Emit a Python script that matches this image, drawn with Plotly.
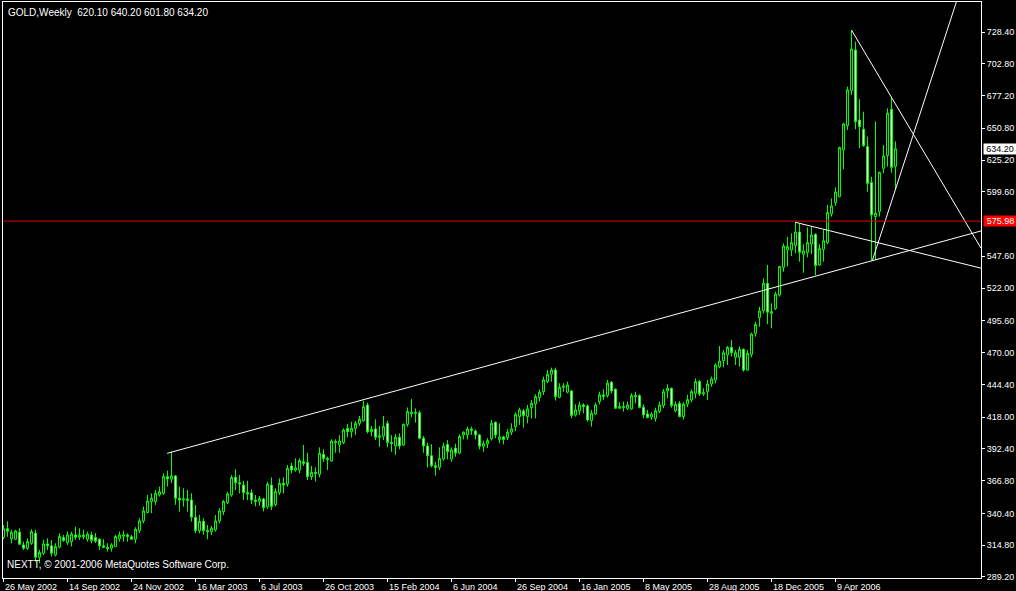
import plotly.graph_objects as go

# ---- data (weekly GOLD bars) ----
opens = [321.0, 328.0, 319.8, 319.5, 325.2, 315.0, 312.3, 316.3, 324.4, 305.0,
         308.2, 315.8, 314.2, 306.9, 313.1, 320.9, 316.8, 317.6, 323.0, 321.2,
         322.8, 319.5, 323.0, 321.0, 319.5, 314.2, 313.0, 312.3, 313.6, 319.8,
         322.0, 323.0, 321.5, 319.5, 326.5, 334.3, 341.0, 349.9, 349.9, 355.3,
         356.6, 370.0, 367.9, 370.6, 352.6, 351.2, 352.0, 351.2, 337.3, 326.5,
         333.8, 326.5, 325.7, 327.1, 334.3, 341.8, 349.1, 355.2, 369.4, 365.1,
         363.2, 357.1, 357.0, 351.1, 350.0, 352.0, 346.0, 363.2, 347.5, 357.1,
         364.6, 364.0, 378.6, 375.3, 375.3, 382.0, 381.5, 370.0, 373.4, 371.8,
         388.0, 384.7, 382.6, 398.2, 395.5, 397.4, 408.9, 406.2, 408.9, 412.9,
         415.1, 427.7, 406.2, 408.4, 401.7, 402.7, 412.9, 397.6, 394.7, 401.7,
         395.5, 412.1, 421.8, 421.0, 421.5, 400.9, 394.7, 386.9, 378.8, 377.5,
         384.2, 396.0, 384.2, 393.0, 389.0, 403.6, 403.6, 408.4, 406.8, 403.6,
         394.5, 396.5, 400.5, 413.8, 400.0, 402.0, 401.5, 405.8, 410.3, 418.4,
         423.0, 418.4, 425.6, 428.6, 433.7, 438.5, 446.6, 452.5, 456.0, 434.0,
         442.0, 438.0, 439.1, 419.7, 423.0, 427.8, 427.0, 415.2, 420.5, 430.5,
         435.9, 435.3, 446.1, 440.4, 425.1, 426.5, 425.1, 424.6, 435.3, 435.3,
         425.9, 420.5, 418.1, 417.0, 422.4, 427.3, 439.1, 441.2, 423.0, 429.1,
         418.4, 428.5, 431.8, 437.2, 446.6, 436.6, 438.5, 444.7, 447.9, 458.6,
         463.5, 468.1, 474.2, 466.2, 466.2, 472.6, 455.9, 468.6, 485.5, 498.2,
         503.8, 525.8, 501.6, 505.4, 516.4, 538.7, 552.7, 552.7, 556.2, 567.2,
         549.2, 550.8, 557.5, 565.3, 540.6, 553.2, 558.6, 581.7, 590.8, 595.7,
         633.3, 652.9, 681.2, 713.9, 657.5, 650.0, 636.0, 607.2, 579.6, 583.6,
         618.5, 628.8, 666.1, 620.1]
highs = [331.0, 334.0, 327.1, 327.1, 328.4, 317.6, 320.3, 327.6, 327.1, 310.9,
         319.0, 320.3, 319.0, 316.3, 324.4, 323.0, 325.7, 325.7, 329.7, 328.4,
         327.1, 325.7, 325.7, 324.5, 320.3, 319.5, 316.3, 316.3, 323.0, 325.7,
         326.5, 324.4, 323.0, 329.2, 336.5, 345.9, 355.3, 356.6, 359.3, 362.0,
         372.7, 374.9, 390.2, 371.4, 362.0, 360.6, 359.3, 356.6, 347.2, 339.1,
         336.5, 331.1, 330.3, 339.1, 344.5, 351.2, 357.9, 371.3, 375.9, 371.3,
         366.7, 366.7, 359.7, 355.2, 354.4, 353.0, 365.9, 369.4, 360.6, 368.6,
         369.4, 379.4, 381.2, 384.7, 384.7, 395.5, 389.3, 378.6, 377.5, 393.6,
         392.0, 386.1, 400.1, 400.1, 403.5, 408.9, 412.4, 414.3, 414.8, 418.9,
         431.2, 429.6, 410.8, 416.2, 410.8, 418.9, 415.1, 403.5, 404.3, 404.9,
         412.9, 425.8, 432.6, 425.0, 423.2, 402.7, 397.4, 396.3, 382.0, 393.6,
         397.4, 399.5, 393.6, 396.5, 404.0, 406.5, 410.3, 410.3, 408.0, 404.5,
         399.0, 401.0, 415.7, 414.5, 413.0, 403.0, 408.5, 413.0, 421.9, 425.6,
         424.6, 427.8, 431.8, 436.4, 440.4, 450.6, 456.0, 457.9, 457.9, 445.3,
         445.3, 446.6, 439.9, 428.3, 430.5, 429.1, 428.3, 423.8, 429.7, 438.5,
         440.4, 447.9, 447.1, 441.2, 429.9, 430.5, 430.5, 437.2, 438.5, 436.4,
         428.3, 423.8, 421.9, 425.6, 430.5, 440.7, 444.5, 441.8, 430.5, 431.0,
         430.0, 436.0, 440.4, 449.2, 447.9, 441.2, 447.9, 450.6, 461.4, 475.3,
         472.1, 475.3, 480.1, 472.1, 474.8, 473.4, 472.1, 486.1, 494.9, 507.0,
         529.9, 540.6, 509.7, 519.1, 539.8, 558.1, 563.4, 566.1, 575.5, 573.7,
         557.3, 571.0, 572.0, 566.1, 557.3, 568.8, 589.0, 594.3, 603.2, 636.0,
         655.3, 684.4, 730.0, 720.6, 674.2, 664.2, 644.1, 611.8, 656.1, 615.8,
         637.3, 666.9, 676.3, 640.2]
lows = [319.5, 321.5, 316.3, 319.0, 315.0, 310.9, 310.9, 315.0, 301.5, 300.2,
        306.9, 310.9, 305.6, 305.6, 312.3, 317.6, 315.0, 313.6, 319.0, 319.0,
        319.5, 317.6, 316.3, 316.5, 310.9, 312.3, 309.6, 309.6, 313.6, 317.6,
        317.6, 317.6, 319.0, 316.3, 324.4, 332.4, 340.5, 340.5, 347.2, 353.9,
        355.3, 362.0, 364.7, 347.2, 341.8, 345.9, 341.8, 333.8, 324.4, 324.4,
        323.0, 319.5, 323.0, 325.7, 332.4, 339.1, 348.0, 353.8, 359.2, 356.5,
        351.1, 351.1, 348.0, 346.0, 346.5, 342.0, 344.0, 343.0, 346.0, 355.2,
        356.5, 361.9, 372.6, 374.0, 372.6, 378.6, 367.3, 367.3, 365.9, 369.4,
        382.0, 375.3, 382.0, 389.3, 389.3, 396.3, 401.7, 401.4, 403.5, 410.8,
        414.3, 404.9, 402.7, 399.5, 394.1, 399.5, 393.6, 390.1, 387.4, 392.0,
        394.7, 410.3, 417.8, 413.5, 400.1, 389.3, 377.5, 377.5, 370.8, 375.3,
        382.9, 383.9, 382.0, 386.0, 388.0, 400.0, 400.0, 403.6, 400.0, 392.0,
        390.0, 393.0, 399.0, 401.0, 397.0, 396.0, 399.5, 403.5, 406.8, 411.7,
        409.5, 413.0, 417.0, 417.0, 430.5, 435.9, 445.3, 446.6, 431.3, 433.2,
        438.5, 437.2, 417.0, 418.4, 419.7, 421.1, 414.4, 410.3, 419.7, 428.3,
        431.8, 433.7, 437.2, 424.6, 424.6, 422.4, 423.8, 423.8, 429.1, 425.1,
        417.0, 417.0, 415.7, 414.4, 421.1, 425.1, 433.2, 425.6, 421.9, 418.0,
        416.0, 426.0, 430.0, 433.1, 435.0, 435.0, 431.8, 442.5, 445.2, 457.3,
        458.1, 460.0, 466.7, 460.0, 458.6, 454.6, 455.4, 466.2, 482.8, 490.9,
        501.6, 492.8, 489.5, 504.3, 515.1, 535.2, 539.3, 547.9, 550.0, 543.3,
        534.4, 546.8, 549.5, 532.5, 539.8, 543.3, 557.5, 579.6, 588.2, 595.2,
        617.7, 649.4, 677.6, 650.0, 634.7, 636.0, 599.7, 544.1, 544.6, 579.6,
        614.5, 619.9, 615.0, 601.8]
closes = [328.0, 326.0, 325.2, 326.2, 315.5, 312.3, 317.6, 325.7, 305.0, 308.8,
          315.8, 314.2, 308.2, 313.6, 321.7, 318.5, 323.0, 323.8, 321.2, 322.8,
          321.5, 323.8, 318.5, 318.0, 314.2, 313.0, 312.0, 315.0, 321.7, 323.0,
          323.0, 321.8, 319.5, 327.6, 334.3, 342.4, 350.4, 352.6, 356.6, 357.9,
          370.0, 368.2, 370.6, 352.6, 351.2, 352.0, 351.0, 337.3, 326.5, 333.8,
          326.5, 325.7, 328.4, 334.3, 342.4, 349.9, 356.1, 369.4, 365.1, 364.0,
          357.1, 356.0, 351.1, 350.0, 352.3, 345.0, 364.0, 346.0, 357.9, 364.6,
          363.2, 376.7, 375.3, 377.0, 382.9, 380.7, 370.0, 373.4, 372.6, 388.8,
          384.7, 383.9, 398.7, 397.4, 398.7, 407.6, 406.2, 408.9, 412.9, 416.2,
          426.4, 406.2, 408.0, 401.7, 403.0, 410.3, 397.6, 396.8, 401.7, 394.7,
          412.1, 422.4, 421.0, 421.8, 400.9, 394.7, 386.9, 378.8, 377.5, 384.7,
          394.7, 390.1, 391.5, 389.0, 402.5, 405.8, 408.4, 407.4, 403.6, 394.5,
          396.5, 399.0, 413.0, 403.6, 402.0, 400.0, 405.8, 408.5, 420.3, 423.8,
          419.2, 424.6, 429.1, 434.5, 438.0, 448.0, 452.5, 456.0, 434.5, 442.0,
          443.0, 443.9, 419.2, 423.8, 427.8, 426.5, 415.7, 421.1, 427.8, 435.9,
          434.8, 445.3, 439.1, 425.1, 426.5, 425.9, 427.8, 435.3, 434.5, 425.9,
          419.7, 417.6, 420.5, 423.2, 427.8, 438.5, 441.2, 427.3, 428.3, 418.4,
          428.5, 432.0, 438.5, 446.6, 436.6, 437.7, 444.7, 448.7, 460.0, 463.2,
          469.9, 474.2, 469.9, 469.9, 472.6, 455.9, 469.4, 485.0, 492.6, 503.5,
          525.8, 502.5, 503.0, 517.2, 539.3, 555.9, 555.4, 558.6, 567.2, 550.8,
          551.9, 558.6, 564.8, 540.1, 553.8, 560.2, 582.8, 588.2, 599.5, 635.2,
          654.3, 681.7, 714.7, 656.1, 652.1, 636.8, 606.4, 580.9, 582.3, 615.3,
          628.5, 662.9, 619.3, 634.2]

date_tick_bars = [0, 16, 32, 48, 64, 80, 96, 112, 128, 144, 160, 176, 192, 208]
date_tick_labels = ["26 May 2002", "14 Sep 2002", "24 Nov 2002", "16 Mar 2003",
                    "6 Jul 2003", "26 Oct 2003", "15 Feb 2004", "6 Jun 2004",
                    "26 Sep 2004", "16 Jan 2005", "8 May 2005", "28 Aug 2005",
                    "18 Dec 2005", "9 Apr 2006"]
price_ticks = [728.40, 702.80, 677.20, 650.80, 625.20, 599.60, 547.60,
               522.00, 495.60, 470.00, 444.40, 418.00, 392.40, 366.80, 340.40,
               314.80, 289.20]

# user-drawn trend lines: two anchor points (bar index, price), extended as rays
trend_lines = [
    ((40.9, 388.8), (217.2, 544.1)),
    ((198.0, 575.0), (224.25, 554.1)),
    ((212.0, 730.0), (239.25, 582.0)),
    ((217.2, 544.1), (236.75, 738.1)),
]
hline_price = 575.98
bid_price = 634.20
title_text = "GOLD,Weekly  620.10 640.20 601.80 634.20"
copyright_text = "NEXTT, © 2001-2006 MetaQuotes Software Corp."

X_RANGE = [-0.125, 244.375]
Y_RANGE = [288.3, 752.6]
FONT = "Liberation Sans"

n = len(opens)
bars = list(range(n))

fig = go.Figure()
fig.add_trace(go.Candlestick(
    x=bars, open=opens, high=highs, low=lows, close=closes,
    increasing=dict(line=dict(color="#00FF00", width=1), fillcolor="#000000"),
    decreasing=dict(line=dict(color="#00FF00", width=1), fillcolor="#FFFFFF"),
    whiskerwidth=0, hoverinfo="skip", showlegend=False,
))

x_end = X_RANGE[1]
for (x1, y1), (x2, y2) in trend_lines:
    slope = (y2 - y1) / (x2 - x1)
    fig.add_trace(go.Scatter(
        x=[x1, x_end], y=[y1, y1 + slope * (x_end - x1)], mode="lines",
        line=dict(color="#FFFFFF", width=1), hoverinfo="skip", showlegend=False,
    ))

fig.add_shape(type="line", xref="paper", x0=0, x1=1, yref="y",
              y0=hline_price, y1=hline_price, line=dict(color="#E00000", width=1))

annotations = []
for b, lab in zip(date_tick_bars, date_tick_labels):
    annotations.append(dict(x=b, xref="x", y=0, yref="paper", text=lab,
                            showarrow=False, xanchor="left", yanchor="top",
                            yshift=-2, xshift=-1,
                            font=dict(family=FONT, size=9, color="white")))
annotations.append(dict(x=0, xref="paper", y=1, yref="paper", text=title_text,
                        showarrow=False, xanchor="left", yanchor="top",
                        xshift=3, yshift=-3,
                        font=dict(family=FONT, size=10, color="white")))
annotations.append(dict(x=0, xref="paper", y=0, yref="paper", text=copyright_text,
                        showarrow=False, xanchor="left", yanchor="bottom",
                        xshift=2, yshift=6,
                        font=dict(family=FONT, size=10, color="white")))
annotations.append(dict(x=1, xref="paper", y=hline_price, yref="y",
                        text=f"{hline_price:.2f}", showarrow=False,
                        xanchor="left", yanchor="middle", xshift=2,
                        bgcolor="#FF0000", borderpad=0, width=33, height=10,
                        font=dict(family=FONT, size=9, color="white")))
annotations.append(dict(x=1, xref="paper", y=bid_price, yref="y",
                        text=f"{bid_price:.2f}", showarrow=False,
                        xanchor="left", yanchor="middle", xshift=2,
                        bgcolor="#FFFFFF", borderpad=0, width=32, height=10,
                        font=dict(family=FONT, size=9, color="black")))

fig.update_layout(
    width=1016, height=591,
    margin=dict(l=3, r=35, t=2, b=13, pad=0),
    paper_bgcolor="#000000", plot_bgcolor="#000000",
    showlegend=False, hovermode=False,
    annotations=annotations,
    xaxis=dict(range=X_RANGE, showgrid=False, zeroline=False,
               showline=True, linecolor="white", linewidth=1, mirror=True,
               tickvals=date_tick_bars, ticktext=[""] * len(date_tick_bars),
               ticks="outside", ticklen=3, tickcolor="white", tickwidth=1,
               rangeslider=dict(visible=False), fixedrange=True),
    yaxis=dict(side="right", range=Y_RANGE, showgrid=False, zeroline=False,
               showline=True, linecolor="white", linewidth=1, mirror=True,
               tickvals=price_ticks, ticktext=[f"{v:.2f}" for v in price_ticks],
               ticks="outside", ticklen=3, tickcolor="white", tickwidth=1,
               tickfont=dict(family=FONT, size=9, color="white"), fixedrange=True),
)

fig.write_html("out.html", config={"displayModeBar": False},
               post_script="document.body.style.margin='0';document.body.style.overflow='hidden';")
